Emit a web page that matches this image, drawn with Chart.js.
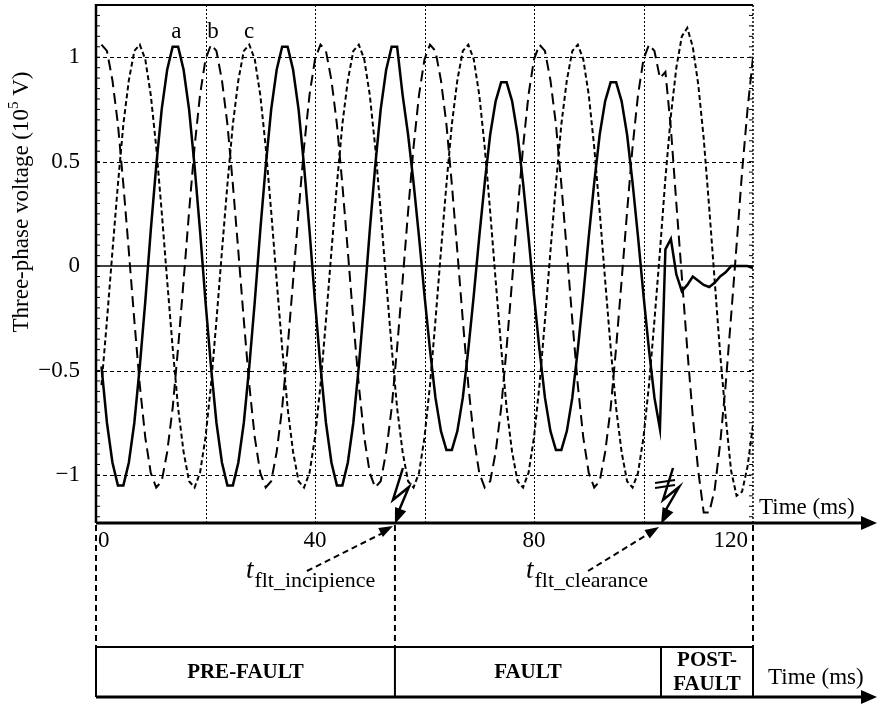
<!DOCTYPE html>
<html>
<head>
<meta charset="utf-8">
<script src="https://cdn.jsdelivr.net/npm/chart.js@4.4.1/dist/chart.umd.min.js"></script>
<style>
  html, body { margin: 0; padding: 0; background: #fff; }
  #chart { display: block; }
</style>
</head>
<body>
<canvas id="chart" width="877" height="704"></canvas>
<script>
// time samples (ms)
const timeMs = [
  1, 2, 3, 4, 5, 6, 7, 8, 9, 10, 11, 12, 13, 14, 15, 16, 17, 18, 19, 20,
  21, 22, 23, 24, 25, 26, 27, 28, 29, 30, 31, 32, 33, 34, 35, 36, 37, 38, 39, 40,
  41, 42, 43, 44, 45, 46, 47, 48, 49, 50, 51, 52, 53, 54, 55, 56, 57, 58, 59, 60,
  61, 62, 63, 64, 65, 66, 67, 68, 69, 70, 71, 72, 73, 74, 75, 76, 77, 78, 79, 80,
  81, 82, 83, 84, 85, 86, 87, 88, 89, 90, 91, 92, 93, 94, 95, 96, 97, 98, 99, 100,
  101, 102, 103, 104, 105, 106, 107, 108, 109, 110, 111, 112, 113, 114, 115, 116, 117, 118, 119, 120
];

// phase a (solid), 10^5 V
const phaseA = [
  -0.48, -0.75, -0.94, -1.05, -1.05, -0.94, -0.75, -0.48, -0.17, 0.17, 0.48, 0.75, 0.94, 1.05, 1.05, 0.94, 0.75, 0.48, 0.17, -0.17,
  -0.48, -0.75, -0.94, -1.05, -1.05, -0.94, -0.75, -0.48, -0.17, 0.17, 0.48, 0.75, 0.94, 1.05, 1.05, 0.94, 0.75, 0.48, 0.17, -0.17,
  -0.48, -0.75, -0.94, -1.05, -1.05, -0.94, -0.75, -0.48, -0.17, 0.17, 0.48, 0.75, 0.94, 1.05, 1.05, 0.82, 0.63, 0.40, 0.14, -0.14,
  -0.40, -0.63, -0.79, -0.88, -0.88, -0.79, -0.63, -0.40, -0.14, 0.14, 0.40, 0.63, 0.79, 0.88, 0.88, 0.79, 0.63, 0.40, 0.14, -0.14,
  -0.40, -0.63, -0.79, -0.88, -0.88, -0.79, -0.63, -0.40, -0.14, 0.14, 0.40, 0.63, 0.79, 0.88, 0.88, 0.79, 0.63, 0.40, 0.14, -0.14,
  -0.40, -0.63, -0.78, 0.08, 0.13, -0.04, -0.12, -0.09, -0.05, -0.07, -0.09, -0.10, -0.08, -0.05, -0.03, 0.00, 0.00, 0.00, 0.00, -0.01
];

// phase b (long dashes)
const phaseB = [
  1.06, 1.03, 0.89, 0.68, 0.39, 0.07, -0.26, -0.57, -0.82, -0.99, -1.06, -1.03, -0.89, -0.68, -0.39, -0.07, 0.26, 0.57, 0.82, 0.99,
  1.06, 1.03, 0.89, 0.68, 0.39, 0.07, -0.26, -0.57, -0.82, -0.99, -1.06, -1.03, -0.89, -0.68, -0.39, -0.07, 0.26, 0.57, 0.82, 0.99,
  1.06, 1.03, 0.89, 0.68, 0.39, 0.07, -0.26, -0.57, -0.82, -0.99, -1.06, -1.03, -0.89, -0.68, -0.39, -0.07, 0.26, 0.57, 0.82, 0.99,
  1.06, 1.03, 0.89, 0.68, 0.39, 0.07, -0.26, -0.57, -0.82, -0.99, -1.06, -1.03, -0.89, -0.68, -0.39, -0.07, 0.26, 0.57, 0.82, 0.99,
  1.06, 1.03, 0.89, 0.68, 0.39, 0.07, -0.26, -0.57, -0.82, -0.99, -1.06, -1.03, -0.89, -0.68, -0.39, -0.07, 0.26, 0.57, 0.82, 0.99,
  1.06, 1.03, 0.90, 0.93, 0.66, 0.30, -0.05, -0.40, -0.72, -0.98, -1.18, -1.18, -1.07, -0.85, -0.57, -0.24, 0.10, 0.45, 0.75, 1.00
];

// phase c (short dashes)
const phaseC = [
  -0.57, -0.26, 0.07, 0.39, 0.68, 0.89, 1.03, 1.06, 0.99, 0.82, 0.57, 0.26, -0.07, -0.39, -0.68, -0.89, -1.03, -1.06, -0.99, -0.82,
  -0.57, -0.26, 0.07, 0.39, 0.68, 0.89, 1.03, 1.06, 0.99, 0.82, 0.57, 0.26, -0.07, -0.39, -0.68, -0.89, -1.03, -1.06, -0.99, -0.82,
  -0.57, -0.26, 0.07, 0.39, 0.68, 0.89, 1.03, 1.06, 0.99, 0.82, 0.57, 0.26, -0.07, -0.39, -0.68, -0.89, -1.03, -1.06, -0.99, -0.82,
  -0.57, -0.26, 0.07, 0.39, 0.68, 0.89, 1.03, 1.06, 0.99, 0.82, 0.57, 0.26, -0.07, -0.39, -0.68, -0.89, -1.03, -1.06, -0.99, -0.82,
  -0.57, -0.26, 0.07, 0.39, 0.68, 0.89, 1.03, 1.06, 0.99, 0.82, 0.57, 0.26, -0.07, -0.39, -0.68, -0.89, -1.03, -1.06, -0.99, -0.82,
  -0.57, -0.26, 0.07, 0.42, 0.72, 0.95, 1.10, 1.14, 1.05, 0.87, 0.61, 0.28, -0.07, -0.42, -0.72, -0.98, -1.10, -1.08, -0.96, -0.76
];

const yTicks = [1, 0.5, 0, -0.5, -1];
const yTickLabels = ["1", "0.5", "0", "\u22120.5", "\u22121"];
const xTicks = [0, 40, 80, 120];
const gridTimes = [20, 40, 60, 80, 100];
const faultStart = 54.6;
const faultClear = 103.2;
const phaseNames = ["a", "b", "c"];
const phaseLabelTimes = [14.5, 21.2, 27.8];

const FONT = "'Liberation Serif', 'Times New Roman', serif";

const toPoints = (vals) => vals.map((v, i) => ({ x: timeMs[i], y: v }));

// helpers
const line = (ctx, x1, y1, x2, y2, w, dash) => {
  ctx.lineWidth = w;
  ctx.setLineDash(dash || []);
  ctx.beginPath();
  ctx.moveTo(x1, y1);
  ctx.lineTo(x2, y2);
  ctx.stroke();
};

const arrowHead = (ctx, x0, y0, x1, y1, len, half) => {
  const a = Math.atan2(y1 - y0, x1 - x0);
  const bx = x1 - len * Math.cos(a);
  const by = y1 - len * Math.sin(a);
  ctx.setLineDash([]);
  ctx.beginPath();
  ctx.moveTo(x1, y1);
  ctx.lineTo(bx + half * Math.sin(a), by - half * Math.cos(a));
  ctx.lineTo(bx - half * Math.sin(a), by + half * Math.cos(a));
  ctx.closePath();
  ctx.fill();
};

// grid behind the waveforms
const gridPlugin = {
  id: "grid",
  beforeDatasetsDraw(chart) {
    const { ctx, chartArea: area, scales: { x, y } } = chart;
    ctx.save();
    ctx.strokeStyle = "#000";
    [1, 0.5, -0.5, -1].forEach((v) => {
      const py = Math.round(y.getPixelForValue(v)) + 0.5;
      line(ctx, area.left, py, area.right, py, 1, [4, 3]);
    });
    gridTimes.forEach((t) => {
      const px = Math.round(x.getPixelForValue(t)) + 0.5;
      line(ctx, px, area.top, px, area.bottom, 1, [2, 2]);
    });
    const y0 = y.getPixelForValue(0);
    line(ctx, area.left, y0, area.right, y0, 1.5);
    ctx.restore();
  }
};

// axes, labels and fault annotations
const annotatePlugin = {
  id: "annotate",
  afterDraw(chart) {
    const { ctx, chartArea: area, scales: { x, y } } = chart;
    const W = chart.width;
    ctx.save();
    ctx.strokeStyle = "#000";
    ctx.fillStyle = "#000";

    // frame
    line(ctx, area.left, area.top, area.right, area.top, 2);
    line(ctx, area.right, area.top, area.right, area.bottom, 1.5, [2, 2]);
    line(ctx, area.left, area.top - 1, area.left, area.bottom, 2.5);

    // minor ticks on both sides
    for (let k = -24; k <= 25; k++) {
      const py = y.getPixelForValue(k * 0.05);
      line(ctx, area.left, py, area.left + 4, py, 1);
      line(ctx, area.right, py, area.right - 4, py, 1);
    }

    // y tick labels
    ctx.font = "23px " + FONT;
    ctx.textAlign = "right";
    ctx.textBaseline = "middle";
    yTicks.forEach((v, i) => ctx.fillText(yTickLabels[i], area.left - 16, y.getPixelForValue(v)));

    // y title with superscript
    ctx.save();
    ctx.translate(22, 202);
    ctx.rotate(-Math.PI / 2);
    ctx.textAlign = "left";
    ctx.textBaseline = "middle";
    const t1 = "Three-phase voltage (10", t2 = "5", t3 = " V)";
    ctx.font = "23px " + FONT;
    const w1 = ctx.measureText(t1).width, w3 = ctx.measureText(t3).width;
    ctx.font = "15px " + FONT;
    const w2 = ctx.measureText(t2).width;
    let sx = -(w1 + w2 + w3) / 2;
    ctx.font = "23px " + FONT;
    ctx.fillText(t1, sx, 0);
    ctx.font = "15px " + FONT;
    ctx.fillText(t2, sx + w1, -8);
    ctx.font = "23px " + FONT;
    ctx.fillText(t3, sx + w1 + w2, 0);
    ctx.restore();

    // phase names
    ctx.font = "23px " + FONT;
    ctx.textAlign = "center";
    ctx.textBaseline = "alphabetic";
    phaseNames.forEach((n, i) => ctx.fillText(n, x.getPixelForValue(phaseLabelTimes[i]) + 1, area.top + 33));

    // main time axis
    const axY = area.bottom;
    line(ctx, area.left, axY, W - 10, axY, 3);
    arrowHead(ctx, area.left, axY, W, axY, 16, 7);
    ctx.textBaseline = "middle";
    xTicks.forEach((t) => {
      const px = x.getPixelForValue(t);
      if (t === xTicks[0]) { ctx.textAlign = "left"; ctx.fillText(String(t), px + 2, axY + 18); }
      else if (t === xTicks[xTicks.length - 1]) { ctx.textAlign = "right"; ctx.fillText(String(t), px - 5, axY + 18); }
      else { ctx.textAlign = "center"; ctx.fillText(String(t), px, axY + 18); }
    });
    ctx.textAlign = "left";
    ctx.fillText("Time (ms)", area.right + 6, axY - 15);

    // stage bar
    const barTop = axY + 124, barBot = axY + 174;
    const x0 = x.getPixelForValue(0), xF = x.getPixelForValue(faultStart);
    const xC = x.getPixelForValue(faultClear), xE = x.getPixelForValue(120);
    [x0, xF, xE].forEach((px) => line(ctx, px, axY + 2, px, barTop, 2, [6, 4]));
    line(ctx, x0, barTop, xE, barTop, 2);
    [x0, xF, xC, xE].forEach((px) => line(ctx, px, barTop, px, barBot, 2));
    line(ctx, x0, barBot, W - 10, barBot, 3);
    arrowHead(ctx, x0, barBot, W, barBot, 16, 7);

    ctx.font = "bold 21px " + FONT;
    ctx.textAlign = "center";
    ctx.textBaseline = "middle";
    ctx.fillText("PRE-FAULT", (x0 + xF) / 2, barTop + 26);
    ctx.fillText("FAULT", (xF + xC) / 2, barTop + 26);
    ctx.fillText("POST-", (xC + xE) / 2, barTop + 14);
    ctx.fillText("FAULT", (xC + xE) / 2, barTop + 38);
    ctx.font = "23px " + FONT;
    ctx.textAlign = "left";
    ctx.fillText("Time (ms)", xE + 15, barTop + 31);

    // lightning bolts
    const bolt = (tx, dx) => {
      ctx.setLineDash([]);
      ctx.lineWidth = 2.5;
      ctx.beginPath();
      ctx.moveTo(tx + dx + 8, axY - 55);
      ctx.lineTo(tx + dx - 2, axY - 23);
      ctx.lineTo(tx + dx + 14, axY - 36);
      ctx.lineTo(tx + 3, axY - 10);
      ctx.stroke();
      arrowHead(ctx, tx + dx + 14, axY - 36, tx, axY + 1, 16, 6);
    };
    bolt(xF, 0);
    bolt(xC, 4);
    line(ctx, xC - 6, axY - 40, xC + 14, axY - 43, 2);
    line(ctx, xC - 6, axY - 35, xC + 14, axY - 38, 2);

    // dashed pointers and labels
    ctx.strokeStyle = "#000";
    line(ctx, xF - 88, axY + 48, xF - 8, axY + 8, 2, [6, 4]);
    arrowHead(ctx, xF - 88, axY + 48, xF - 2, axY + 3, 14, 5);
    line(ctx, xC - 73, axY + 48, xC - 8, axY + 8, 2, [6, 4]);
    arrowHead(ctx, xC - 73, axY + 48, xC - 2, axY + 4, 14, 5);

    const subLabel = (px, sub) => {
      ctx.textAlign = "left";
      ctx.textBaseline = "alphabetic";
      ctx.font = "italic 27px " + FONT;
      ctx.fillText("t", px, axY + 55);
      const tw = ctx.measureText("t").width;
      ctx.font = "22px " + FONT;
      ctx.fillText(sub, px + tw + 1, axY + 64);
    };
    subLabel(xF - 149, "flt_incipience");
    subLabel(xC - 135, "flt_clearance");

    ctx.restore();
  }
};

const ctx = document.getElementById("chart").getContext("2d");
const chart = new Chart(ctx, {
  type: "line",
  data: {
    datasets: [
      { label: "a", data: toPoints(phaseA), borderColor: "#000", borderWidth: 2.5, pointRadius: 0 },
      { label: "b", data: toPoints(phaseB), borderColor: "#000", borderWidth: 2, borderDash: [11, 6], pointRadius: 0 },
      { label: "c", data: toPoints(phaseC), borderColor: "#000", borderWidth: 2, borderDash: [5, 3], pointRadius: 0 }
    ]
  },
  options: {
    responsive: false,
    animation: false,
    layout: { padding: { left: 96, right: 124, top: 5, bottom: 181 } },
    scales: {
      x: { type: "linear", min: 0, max: 120, display: false },
      y: { type: "linear", min: -1.23, max: 1.25, display: false }
    },
    elements: { line: { tension: 0 } },
    plugins: { legend: { display: false }, tooltip: { enabled: false } }
  },
  plugins: [gridPlugin, annotatePlugin]
});
</script>
</body>
</html>
